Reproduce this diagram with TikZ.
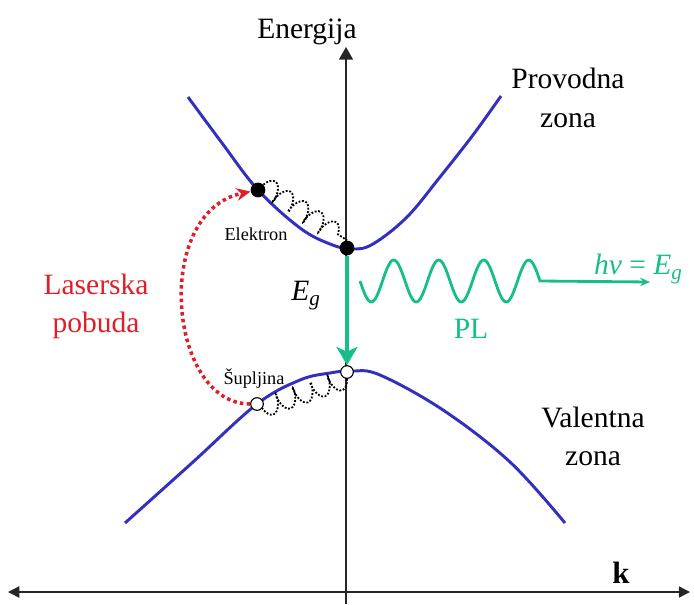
\documentclass[tikz,border=0pt]{standalone}
\usepackage{fontspec}
\setmainfont{Liberation Serif}
\usetikzlibrary{arrows.meta,decorations.pathmorphing}
\definecolor{bandblue}{RGB}{52,48,190}
\definecolor{plgreen}{RGB}{22,190,140}
\definecolor{laserred}{RGB}{225,30,40}
\newcommand{\subg}{\raisebox{-4pt}{\fontsize{15}{15}\selectfont\textit{g}}}
\begin{document}
\begin{tikzpicture}[x=0.025cm, y=-0.025cm,
  every node/.style={font=\fontsize{21}{25}\selectfont, inner sep=0pt},
  small/.style={font=\fontsize{13}{15}\selectfont},
  axis/.style={line width=1pt, black!85},
  band/.style={line width=2.1pt, bandblue},
  edot/.style={circle, fill=black, minimum size=10.5pt},
  hdot/.style={circle, draw=black, fill=white, line width=0.8pt, minimum size=9pt},
  pl/.style={line width=2.2pt, plgreen},
  laser/.style={line width=2.5pt, laserred, dash pattern=on 2.5pt off 2.3pt},
  phonon/.style={line width=1.3pt, dash pattern=on 1.3pt off 1.2pt, decorate,
    decoration={coil, amplitude=6.5pt, segment length=13pt, aspect=0.4}}]
\useasboundingbox (0,0) rectangle (694,604);
% axes
\coordinate (kleft) at (8,592);
\coordinate (kright) at (690,592);
\coordinate (eaxbot) at (346,604);
\coordinate (eaxtop) at (346,47);
\draw[axis, {Triangle[length=8pt,width=8pt]}-{Triangle[length=8pt,width=8pt]}] (kleft) -- (kright);
\draw[axis, -{Triangle[length=9pt,width=10pt]}] (eaxbot) -- (eaxtop);
\node[anchor=base] (energija) at (307,39) {Energija};
\node[anchor=base, font=\fontsize{22}{25}\selectfont\bfseries] (kosa) at (621,583) {k};
% bands
\draw[band] plot[smooth, tension=0.6] coordinates {(188,97) (222,143) (258,190) (300,228) (330,244) (352,249) (373,244) (407,217) (440,177) (473,135) (501,96)};
\draw[band] plot[smooth, tension=0.6] coordinates {(125,523) (193,462) (257,404) (300,380) (330,373) (352,371) (380,375) (443,410) (510,462) (565,523)};
\node[anchor=base] (provodna) at (568,89) {Provodna};
\node[anchor=base] (provzona) at (568,127) {zona};
\node[anchor=base] (valentna) at (593,427) {Valentna};
\node[anchor=base] (valzona) at (593,465) {zona};
% carriers
\node[edot] (elektron) at (258,190) {};
\node[edot] (cbm) at (347,248) {};
\node[hdot] (vbm) at (347,372) {};
\node[hdot] (supljina) at (257,404) {};
\node[small, anchor=base] (elektronlbl) at (256,240) {Elektron};
\node[small, anchor=base] (supljinalbl) at (254,384) {Šupljina};
\draw[phonon] (elektron.north east) -- (cbm.north);
\draw[phonon] (vbm.south) -- (supljina.south east);
% laser excitation
\draw[laser, -{Stealth[length=10pt,width=9pt]}] (supljina) .. controls (168,404) and (152,212) .. (elektron);
\node[anchor=base, text=laserred] (laserska) at (96,294) {Laserska};
\node[anchor=base, text=laserred] (pobuda) at (96,332) {pobuda};
% recombination and PL
\draw[pl, -{Stealth[length=13pt,width=15pt,inset=3.5pt]}] (cbm) -- (vbm);
\node[anchor=base west] (eg) at (291,300) {\textit{E}\subg};
\coordinate (wavestart) at (360,281);
\coordinate (photon) at (650,282);
\draw[pl, line width=2pt, -{Stealth[length=7pt,width=6pt]}] (wavestart) plot[domain=360:540, samples=120, smooth] (\x,{281+21*sin(8*(\x-360))}) -- (photon);
\node[anchor=base, text=plgreen] (pl) at (471,338) {PL};
\node[anchor=base, text=plgreen] (hnu) at (638,274) {\textit{hν} = \textit{E}\subg};
\end{tikzpicture}
\end{document}
